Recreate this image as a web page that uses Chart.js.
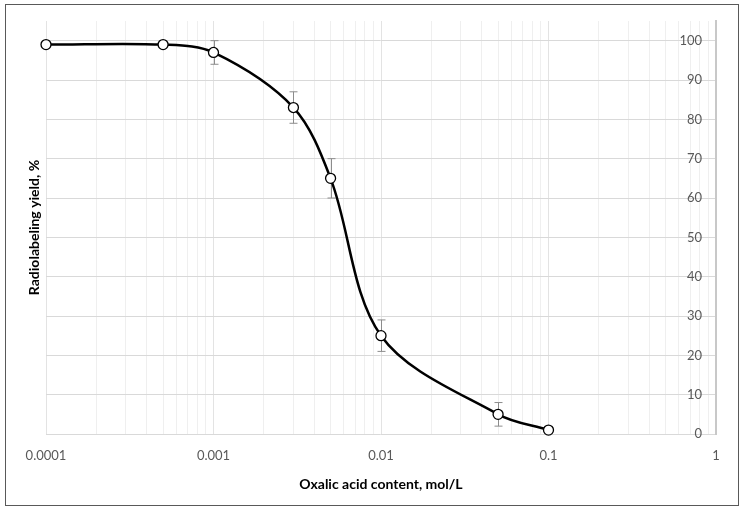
<!DOCTYPE html>
<html>
<head>
<meta charset="utf-8">
<script src="https://cdn.jsdelivr.net/npm/chart.js@4"></script>
<style>
  body { margin: 0; background: #fff; }
  #box {
    position: absolute; left: 5px; top: 4px;
    width: 732px; height: 500px;
    border: 1px solid #595959;
  }
</style>
</head>
<body>
<div id="box"><canvas id="myChart" width="732" height="500"></canvas></div>
<script>
  // oxalic acid content, mol/L
  const concentrations = [0.0001, 0.0005, 0.001, 0.003, 0.005, 0.01, 0.05, 0.1]
  // radiolabeling yield, %
  const yields = [99, 99, 97, 83, 65, 25, 5, 1]
  const yieldErrors = [0, 0, 3, 4, 5, 4, 3, 0]

  const xTickValues = [0.0001, 0.001, 0.01, 0.1, 1]
  const yTickValues = [0, 10, 20, 30, 40, 50, 60, 70, 80, 90, 100]

  const xTitle = "Oxalic acid content, mol/L"
  const yTitle = "Radiolabeling yield, %"

  Chart.defaults.font.family = "Lato, 'Open Sans', sans-serif"

  // all log grid lines: 1..9 in every decade
  function logGridValues() {
    let vals = []
    for (let i = 0; i < xTickValues.length - 1; i++) {
      for (let k = 1; k <= 9; k++) {
        vals.push(Number((xTickValues[i] * k).toPrecision(6)))
      }
    }
    vals.push(xTickValues[xTickValues.length - 1])
    return vals
  }

  const errorBars = {
    id: "errorBars",
    beforeDatasetsDraw(chart) {
      const ctx = chart.ctx
      const x = chart.scales.x
      const y = chart.scales.y
      ctx.save()
      ctx.strokeStyle = "#8c8c8c"
      ctx.lineWidth = 1
      for (let i = 0; i < concentrations.length; i++) {
        if (!yieldErrors[i]) continue
        const px = Math.round(x.getPixelForValue(concentrations[i])) + 0.5
        const top = y.getPixelForValue(yields[i] + yieldErrors[i])
        const bot = y.getPixelForValue(yields[i] - yieldErrors[i])
        ctx.beginPath()
        ctx.moveTo(px, top)
        ctx.lineTo(px, bot)
        ctx.moveTo(px - 4, top)
        ctx.lineTo(px + 4, top)
        ctx.moveTo(px - 4, bot)
        ctx.lineTo(px + 4, bot)
        ctx.stroke()
      }
      ctx.restore()
    }
  }

  function drawChart() {
    const ctx = document.getElementById("myChart")
    let points = []
    for (let i = 0; i < concentrations.length; i++) {
      points.push({ x: concentrations[i], y: yields[i] })
    }

    new Chart(ctx, {
      type: "line",
      data: {
        datasets: [
          {
            data: points,
            borderColor: "#000",
            borderWidth: 2.5,
            tension: 0.33,
            clip: false,
            pointRadius: 5,
            pointBorderWidth: 1.3,
            pointBackgroundColor: "#fff",
            pointBorderColor: "#000",
          },
        ],
      },
      plugins: [errorBars],
      options: {
        responsive: false,
        animation: false,
        layout: { padding: { left: 0, right: 22, top: 16, bottom: 0 } },
        plugins: { legend: { display: false }, tooltip: { enabled: false } },
        scales: {
          x: {
            type: "logarithmic",
            min: 0.0001,
            max: 1,
            afterBuildTicks: (scale) => {
              scale.ticks = logGridValues().map((v) => ({ value: v }))
            },
            afterFit: (scale) => {
              scale.height = 71
              scale.paddingLeft = 0
              scale.paddingRight = 0
            },
            ticks: {
              autoSkip: false,
              maxRotation: 0,
              color: "#595959",
              font: { size: 13 },
              padding: 14,
              callback: (v) => (xTickValues.includes(v) ? String(v) : ""),
            },
            grid: {
              color: (c) => (xTickValues.includes(c.tick && c.tick.value) ? "#e3e3e3" : "#efefef"),
              drawTicks: false,
            },
            border: { display: false },
            title: {
              display: true,
              text: xTitle,
              color: "#000",
              font: { size: 14, weight: "bold" },
              padding: { top: 8, bottom: 12 },
            },
          },
          y: {
            position: "right",
            min: 0,
            max: 105,
            afterBuildTicks: (scale) => {
              scale.ticks = yTickValues.map((v) => ({ value: v }))
            },
            afterFit: (scale) => {
              scale.width = 0
              scale.paddingTop = 0
              scale.paddingBottom = 0
            },
            ticks: {
              mirror: true,
              color: "#595959",
              font: { size: 13 },
              padding: -14,
            },
            grid: { color: "#d9d9d9", drawTicks: false },
            border: { display: true, color: "#c8c8c8", width: 2 },
          },
          yTitle: {
            position: "left",
            display: true,
            afterFit: (scale) => {
              scale.width = 40
              scale.paddingTop = 0
              scale.paddingBottom = 0
            },
            ticks: { display: false },
            grid: { display: false, drawTicks: false },
            border: { display: false },
            title: {
              display: true,
              text: yTitle,
              color: "#000",
              font: { size: 14, weight: "bold" },
              padding: { top: 20 },
            },
          },
        },
      },
    })
  }

  document.addEventListener("DOMContentLoaded", drawChart)
</script>
</body>
</html>
